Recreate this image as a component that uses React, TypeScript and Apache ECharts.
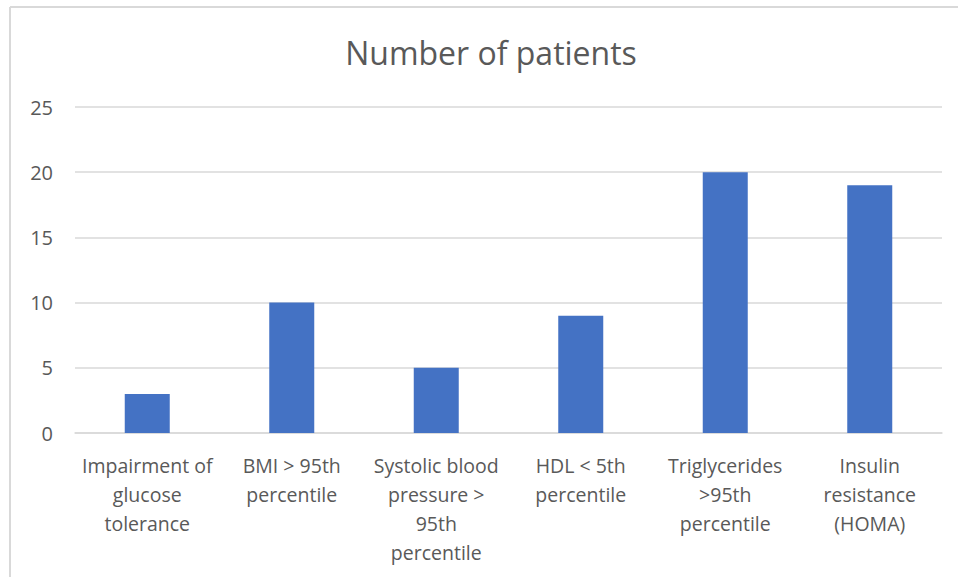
import React, { useEffect, useRef } from "react";
import * as echarts from "echarts";

const categories = [
  "Impairment of\nglucose\ntolerance",
  "BMI > 95th\npercentile",
  "Systolic blood\npressure >\n95th\npercentile",
  "HDL < 5th\npercentile",
  "Triglycerides\n>95th\npercentile",
  "Insulin\nresistance\n(HOMA)",
];
const patients = [3, 10, 5, 9, 20, 19];
const chartTitle = "Number of patients";

export default function App() {
  const ref = useRef<HTMLDivElement>(null);
  useEffect(() => {
    if (!ref.current) return;
    const chart = echarts.init(ref.current, null, { renderer: "svg" });
    const font = "'Open Sans', 'Noto Sans', sans-serif";
    chart.setOption({
      animation: false,
      backgroundColor: "#ffffff",
      title: {
        text: chartTitle,
        left: 486,
        top: 31,
        textAlign: "center",
        textStyle: { color: "#595959", fontSize: 32, fontWeight: "normal", fontFamily: font },
      },
      grid: { left: 75, right: 16, top: 107, bottom: 144, containLabel: false },
      xAxis: {
        type: "category",
        data: categories,
        axisLine: { show: true, lineStyle: { color: "#d9d9d9", width: 1.5 } },
        axisTick: { show: false },
        axisLabel: {
          color: "#595959",
          fontSize: 19.5,
          fontFamily: font,
          lineHeight: 29,
          margin: 18,
          interval: 0,
          verticalAlign: "top",
          align: "center",
        },
      },
      yAxis: {
        type: "value",
        min: 0,
        max: 25,
        interval: 5,
        axisLine: { show: false },
        axisTick: { show: false },
        splitLine: { lineStyle: { color: "#d9d9d9", width: 1.5 } },
        axisLabel: { color: "#595959", fontSize: 20, fontFamily: font, margin: 22 },
      },
      series: [
        {
          type: "bar",
          data: patients,
          barWidth: 45,
          itemStyle: { color: "#4472C4" },
        },
      ],
      graphic: [
        { type: "line", shape: { x1: 10, y1: 7, x2: 958, y2: 7 }, style: { stroke: "#d9d9d9", lineWidth: 2 } },
        { type: "line", shape: { x1: 10, y1: 7, x2: 10, y2: 577 }, style: { stroke: "#d9d9d9", lineWidth: 2 } },
      ],
    });
    return () => chart.dispose();
  }, []);
  return (
    <div
      ref={ref}
      style={{ position: "fixed", left: 0, top: 0, width: 958, height: 577, background: "#fff" }}
    />
  );
}
